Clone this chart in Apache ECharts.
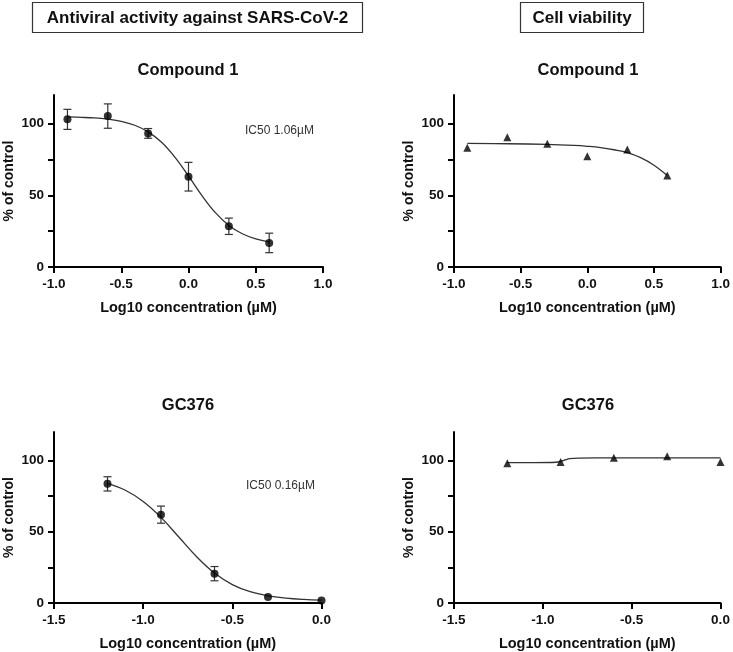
<!DOCTYPE html>
<html>
<head>
<meta charset="utf-8">
<script src="https://cdn.jsdelivr.net/npm/echarts@6/dist/echarts.min.js"></script>
<style>
html,body{margin:0;padding:0;background:#fff;}
#main{width:733px;height:652px;}
</style>
</head>
<body>
<div id="main"></div>
<script>
// ---- Data ----
var headerLeft = 'Antiviral activity against SARS-CoV-2';
var headerRight = 'Cell viability';
var panelTitles = ['Compound 1', 'Compound 1', 'GC376', 'GC376'];
var xAxisName = 'Log10 concentration (µM)';
var yAxisName = '% of control';
var ic50Labels = ['IC50 1.06µM', 'IC50 0.16µM'];

// Compound 1 antiviral
var c1DoseX = [-0.9, -0.6, -0.3, 0.0, 0.3, 0.6];
var c1AntiY = [103, 105.3, 93.2, 63, 28.4, 16.8];
var c1AntiErr = [7, 8.5, 3.4, 10, 5.7, 6.8];
var c1AntiCurveX = [-0.9, -0.8, -0.7, -0.6, -0.5, -0.4, -0.3, -0.2, -0.1, 0.0, 0.1, 0.2, 0.3, 0.4, 0.5, 0.6];
var c1AntiCurveY = [104.7, 104.4, 104.0, 103.1, 101.6, 98.9, 94.3, 87.0, 76.5, 63.5, 49.8, 37.9, 29.0, 23.2, 19.6, 17.5];

// Compound 1 viability
var c1ViaY = [83.2, 90.6, 86.0, 77.3, 82.0, 63.8];
var c1ViaCurveX = [-0.9, -0.6, -0.3, -0.1, 0.0, 0.1, 0.2, 0.3, 0.4, 0.5, 0.6];
var c1ViaCurveY = [86.2, 86.0, 85.5, 84.8, 84.2, 83.3, 81.8, 79.8, 76.3, 71.0, 63.8];

// GC376 antiviral
var gcDoseX = [-1.2, -0.9, -0.6, -0.3, 0.0];
var gcAntiY = [83.6, 62, 20.6, 4.2, 1.8];
var gcAntiErr = [5, 6, 5, 0, 0];
var gcAntiCurveX = [-1.2, -1.1, -1.0, -0.9, -0.8, -0.7, -0.6, -0.5, -0.4, -0.3, -0.2, -0.1, 0.0];
var gcAntiCurveY = [83.9, 79.1, 71.3, 60.1, 46.3, 32.5, 21.0, 12.9, 7.9, 5.0, 3.4, 2.5, 2.0];

// GC376 viability
var gcViaY = [98, 99, 102, 103, 99];
var gcViaCurveX = [-1.2, -1.05, -0.95, -0.9, -0.87, -0.85, -0.8, -0.6, -0.3, 0.0];
var gcViaCurveY = [98.5, 98.5, 98.6, 99.3, 100.6, 101.3, 101.7, 101.8, 101.8, 101.8];

// Axis ticks
var yTickValues = [0, 25, 50, 75, 100];
var yLabelValues = [0, 50, 100];

function pairs(xs, ys) { return xs.map(function (x, i) { return [x, ys[i]]; }); }
function errData(xs, ys, es) { return xs.map(function (x, i) { return [x, ys[i] - es[i], ys[i] + es[i]]; }); }

var FONT = '"Liberation Sans", Arial, sans-serif';
var grids = [
  {left: 54, top: 95, width: 269, height: 172},
  {left: 454, top: 95, width: 268, height: 172},
  {left: 54, top: 432, width: 267.5, height: 171.5},
  {left: 454, top: 432, width: 266.5, height: 171.5}
];
var xRanges = [[-1, 1], [-1, 1], [-1.5, 0], [-1.5, 0]];

function makeX(i) {
  return {
    type: 'value', gridIndex: i, min: xRanges[i][0], max: xRanges[i][1], interval: 0.5,
    name: xAxisName, nameLocation: 'middle', nameGap: 33,
    nameTextStyle: {fontFamily: FONT, fontWeight: 'bold', fontSize: 14.5, color: '#111'},
    axisLine: {onZero: false, lineStyle: {color: '#000', width: 2}},
    axisTick: {show: true, length: 6, lineStyle: {color: '#000', width: 2}},
    axisLabel: {fontFamily: FONT, fontWeight: 'bold', fontSize: 13.5, color: '#111', margin: 10,
      formatter: function (v) { return v.toFixed(1); }},
    splitLine: {show: false}
  };
}
function makeY(i) {
  return {
    type: 'value', gridIndex: i, min: 0, max: 120,
    name: yAxisName, nameLocation: 'middle', nameGap: 38,
    nameTextStyle: {fontFamily: FONT, fontWeight: 'bold', fontSize: 14, color: '#111'},
    axisLine: {onZero: false, lineStyle: {color: '#000', width: 2}},
    axisTick: {show: true, length: 6, customValues: yTickValues, lineStyle: {color: '#000', width: 2}},
    axisLabel: {fontFamily: FONT, fontWeight: 'bold', fontSize: 13.5, color: '#111', margin: 10,
      customValues: yLabelValues},
    splitLine: {show: false}
  };
}

function errorSeries(idx, data) {
  return {
    type: 'custom', xAxisIndex: idx, yAxisIndex: idx, data: data, z: 3,
    renderItem: function (params, api) {
      var x = api.value(0), lo = api.value(1), hi = api.value(2);
      if (hi - lo < 0.001) return null;
      var pLo = api.coord([x, lo]), pHi = api.coord([x, hi]);
      var w = 4;
      var st = {stroke: '#333', lineWidth: 1.2};
      return {type: 'group', children: [
        {type: 'line', shape: {x1: pLo[0], y1: pLo[1], x2: pHi[0], y2: pHi[1]}, style: st},
        {type: 'line', shape: {x1: pLo[0] - w, y1: pLo[1], x2: pLo[0] + w, y2: pLo[1]}, style: st},
        {type: 'line', shape: {x1: pHi[0] - w, y1: pHi[1], x2: pHi[0] + w, y2: pHi[1]}, style: st}
      ]};
    }
  };
}
function curveSeries(idx, data) {
  return {type: 'line', xAxisIndex: idx, yAxisIndex: idx, data: data, smooth: 0.4, showSymbol: false,
    lineStyle: {color: '#333', width: 1.3}, z: 2, silent: true};
}
function pointSeries(idx, data, sym, size) {
  return {type: 'scatter', xAxisIndex: idx, yAxisIndex: idx, data: data, symbol: sym, symbolSize: size,
    itemStyle: {color: '#000'}, z: 4};
}

var titleCenters = [[188, 70], [588, 70], [188, 405], [588, 405]];
var graphics = [
  {type: 'rect', shape: {x: 32.5, y: 2.5, width: 330, height: 30}, style: {fill: '#fff', stroke: '#333', lineWidth: 1.2}},
  {type: 'text', x: 197.5, y: 18, style: {text: headerLeft, font: 'bold 17px ' + FONT, fill: '#111', align: 'center', verticalAlign: 'middle'}},
  {type: 'rect', shape: {x: 520.5, y: 2.5, width: 123, height: 30}, style: {fill: '#fff', stroke: '#333', lineWidth: 1.2}},
  {type: 'text', x: 582, y: 18, style: {text: headerRight, font: 'bold 17px ' + FONT, fill: '#111', align: 'center', verticalAlign: 'middle'}},
  {type: 'text', x: 245, y: 131, style: {text: ic50Labels[0], font: '12px ' + FONT, fill: '#333', align: 'left', verticalAlign: 'middle'}},
  {type: 'text', x: 246, y: 486, style: {text: ic50Labels[1], font: '12px ' + FONT, fill: '#333', align: 'left', verticalAlign: 'middle'}}
];
panelTitles.forEach(function (t, i) {
  graphics.push({type: 'text', x: titleCenters[i][0], y: titleCenters[i][1],
    style: {text: t, font: 'bold 16.5px ' + FONT, fill: '#111', align: 'center', verticalAlign: 'middle'}});
});

var option = {
  animation: false,
  backgroundColor: '#fff',
  grid: grids,
  xAxis: [0, 1, 2, 3].map(makeX),
  yAxis: [0, 1, 2, 3].map(makeY),
  graphic: graphics,
  series: [
    curveSeries(0, pairs(c1AntiCurveX, c1AntiCurveY)),
    errorSeries(0, errData(c1DoseX, c1AntiY, c1AntiErr)),
    pointSeries(0, pairs(c1DoseX, c1AntiY), 'circle', 8),
    curveSeries(1, pairs(c1ViaCurveX, c1ViaCurveY)),
    pointSeries(1, pairs(c1DoseX, c1ViaY), 'triangle', 8),
    curveSeries(2, pairs(gcAntiCurveX, gcAntiCurveY)),
    errorSeries(2, errData(gcDoseX, gcAntiY, gcAntiErr)),
    pointSeries(2, pairs(gcDoseX, gcAntiY), 'circle', 8),
    curveSeries(3, pairs(gcViaCurveX, gcViaCurveY)),
    pointSeries(3, pairs(gcDoseX, gcViaY), 'triangle', 8)
  ]
};
var chart = echarts.init(document.getElementById('main'), null, {renderer: 'canvas'});
chart.setOption(option);
</script>
</body>
</html>
